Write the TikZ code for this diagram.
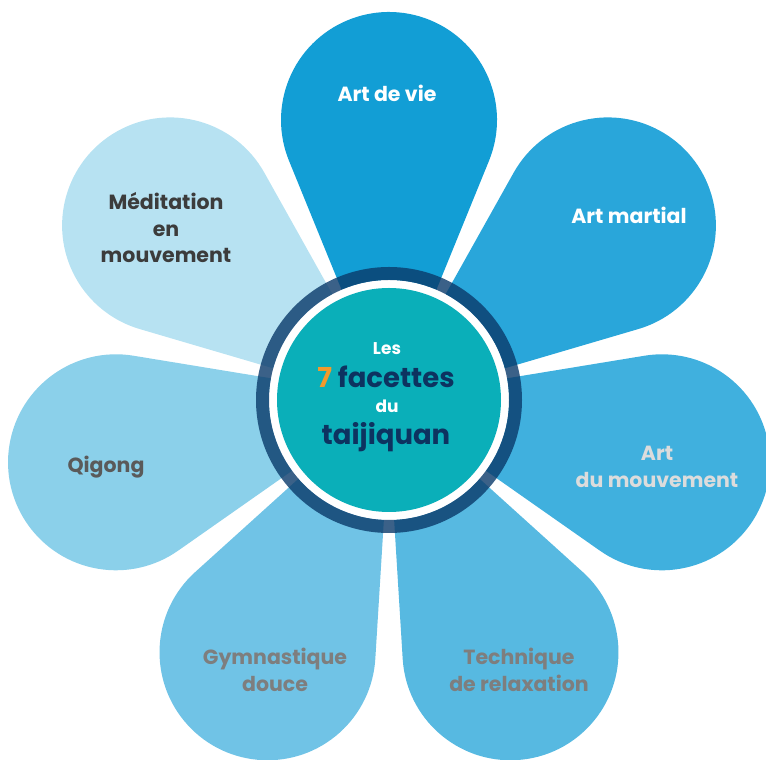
\documentclass[tikz,border=0pt]{standalone}
\usepackage{fontspec}
\setmainfont{Poppins}
\usetikzlibrary{calc}
\definecolor{pA}{HTML}{129ED5}
\definecolor{pB}{HTML}{29A6DA}
\definecolor{pC}{HTML}{40B0DE}
\definecolor{pD}{HTML}{57B9E1}
\definecolor{pE}{HTML}{70C3E6}
\definecolor{pF}{HTML}{8BD0EA}
\definecolor{pG}{HTML}{B7E2F2}
\definecolor{navy}{HTML}{0A3A6A}
\definecolor{teal7}{HTML}{0AAFB9}
\definecolor{orange7}{HTML}{F39A2B}
\definecolor{txtnavy}{HTML}{0D3360}
\definecolor{lightgrey}{HTML}{DCDCDC}
\definecolor{midgrey}{HTML}{7E7E7E}
\definecolor{darkgrey}{HTML}{5A5A5A}
\definecolor{darkergrey}{HTML}{3C3C3C}
\tikzset{
  lab/.style={font=\fontsize{20.5}{26.5}\selectfont\bfseries, align=center, inner sep=0pt},
  ctr/.style={anchor=base, inner sep=0pt, font=\bfseries}
}
\def\drawpetal#1#2{%
  \fill[#2] ($(C)+({#1+180}:6)$) -- ($(C)+(#1:280)+({#1-112.19}:108)$)
    arc[start angle={#1-112.19}, end angle={#1+112.19}, radius=108] -- cycle;}
\begin{document}
\begin{tikzpicture}[x=1pt,y=1pt]
\useasboundingbox (0,0) rectangle (766,760);
\coordinate (C) at (389,360);
\drawpetal{90}{pA}
\drawpetal{38.5714}{pB}
\drawpetal{-12.8571}{pC}
\drawpetal{-64.2857}{pD}
\drawpetal{-115.7143}{pE}
\drawpetal{-167.1429}{pF}
\drawpetal{141.4286}{pG}
\fill[white] (C) circle[radius=120];
\fill[navy, opacity=0.8, even odd rule] (C) circle[radius=133] (C) circle[radius=120];
\fill[teal7] (C) circle[radius=112];
% labels
\node[lab, text=white] (artvie) at (387,667) {Art de vie};
\node[lab, text=white] (artmartial) at (629,545) {Art martial};
\node[lab, text=lightgrey] (artmouv) at (657,293) {Art\\du mouvement};
\node[lab, text=midgrey] (tech) at (519,090) {Technique\\de relaxation};
\node[lab, text=midgrey] (gym) at (275,090) {Gymnastique\\douce};
\node[lab, text=darkgrey] (qigong) at (106,293) {Qigong};
\node[lab, text=darkergrey] (medit) at (166,532) {Méditation\\en\\mouvement};
% centre
\node[ctr, text=white, font=\fontsize{17}{20}\selectfont\bfseries] (les) at (387,405) {Les};
\node[ctr, font=\fontsize{27.5}{30}\selectfont\bfseries] (facettes) at (386,372) {\textcolor{orange7}{7} \textcolor{txtnavy}{facettes}};
\node[ctr, text=white, font=\fontsize{17}{20}\selectfont\bfseries] (du) at (387,347) {du};
\node[ctr, text=txtnavy, font=\fontsize{27.5}{32}\selectfont\bfseries] (taiji) at (386,315) {taijiquan};
\end{tikzpicture}
\end{document}
